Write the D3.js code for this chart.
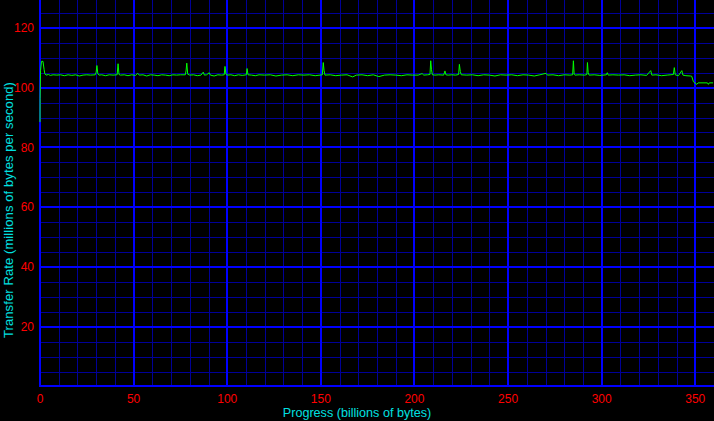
<!DOCTYPE html>
<html>
<head>
<meta charset="utf-8">
<script src="https://cdn.jsdelivr.net/npm/d3@7"></script>
<style>
  html, body { margin: 0; padding: 0; background: #000; }
  svg { display: block; }
  text { font-family: "Liberation Sans", Arial, sans-serif; font-size: 12px; }
</style>
</head>
<body>
<div id="chart"></div>
<script>
// progress (billions of bytes) and transfer rate (millions of bytes per second)
var progress = [
  0, 0.05, 0.3, 0.8, 1.6, 2.2, 2.6, 3.2, 4.5, 5.5, 7, 9, 11, 13, 15, 17, 19, 21, 23, 25, 27,
  29.5, 30.0, 30.4, 30.9, 31.5, 33, 35, 37, 39, 41.2, 41.7, 42.2, 43, 45, 47, 49, 51, 52.2, 53,
  55, 57, 59, 61, 63, 65, 67, 69, 71, 73, 75, 77.6, 78.0, 78.4, 78.9, 80, 82, 84, 86, 87.2, 87.8,
  89, 90.4, 91, 93, 95, 97, 98.4, 98.8, 99.3, 100, 102, 104, 106, 108, 110.2, 110.6, 111.1, 113,
  115, 117, 120, 123, 126, 129, 132, 135, 138, 141, 144, 147, 150.8, 151.3, 151.7, 152.2, 155,
  158, 161, 164, 167, 169, 172, 175, 178, 181, 184, 187, 190, 193, 196, 199, 202, 204.1, 205,
  207, 208.3, 208.7, 209.1, 209.6, 211, 213, 215.6, 216.3, 216.8, 218, 220, 222, 223.6, 224.0,
  224.5, 225, 228, 231, 234, 237, 240, 243, 246, 249, 252, 255, 258, 261, 264, 267, 270.3, 271,
  274, 277, 280, 283, 284.5, 284.9, 285.3, 285.7, 288, 291, 292.1, 292.4, 292.8, 293.3, 296, 299,
  302.5, 303.0, 303.5, 306, 309, 312, 315, 318, 321, 324, 326.2, 326.8, 329, 332, 335, 338.3,
  338.8, 339.3, 341, 342.8, 343.4, 345, 347.5, 348.1, 349.0, 350.8, 351.5, 356.5, 357.0, 357.5, 359.5
];
var rate = [
  88.5, 96.3, 105.8, 108.8, 108.8, 106.0, 104.6, 104.2, 104.4, 104.1, 104.3, 104.2, 104.3, 104.0, 104.3, 104.1, 104.3, 103.9, 104.2, 104.3, 104.2,
  104.3, 105.2, 107.4, 104.6, 104.2, 104.3, 104.0, 104.3, 104.2, 104.3, 108.0, 104.4, 104.2, 104.3, 104.0, 104.3, 104.1, 104.8, 104.2,
  104.3, 103.9, 104.3, 104.2, 104.0, 104.3, 104.2, 104.0, 104.3, 104.2, 104.3, 104.3, 105.6, 108.2, 104.5, 104.2, 104.3, 104.0, 104.2, 105.2, 104.2,
  104.3, 105.0, 104.2, 103.9, 104.3, 104.2, 104.3, 107.1, 104.5, 104.2, 104.3, 104.0, 104.3, 104.1, 104.3, 106.4, 104.3, 104.2,
  104.0, 104.3, 104.2, 104.3, 103.9, 104.2, 104.3, 104.0, 104.3, 104.2, 104.3, 104.0, 104.3, 108.4, 105.8, 104.2, 104.3,
  104.0, 104.2, 104.3, 103.6, 104.2, 104.3, 104.0, 104.3, 103.7, 104.2, 104.3, 104.2, 104.0, 104.3, 104.2, 104.2, 104.7, 104.2,
  104.3, 104.4, 109.0, 106.0, 104.3, 104.2, 104.3, 104.2, 105.6, 104.3, 104.2, 104.3, 104.2, 104.4, 107.8,
  105.4, 104.3, 104.2, 104.3, 104.0, 104.3, 104.2, 103.9, 104.3, 104.2, 104.3, 104.0, 104.3, 104.2, 103.9, 104.3, 104.8, 104.2,
  104.3, 104.0, 104.3, 104.2, 104.3, 109.0, 104.5, 104.2, 104.3, 104.2, 104.4, 108.4, 105.0, 104.2, 104.3, 104.1,
  104.3, 105.0, 104.2, 104.3, 104.2, 104.3, 104.0, 104.2, 104.3, 104.1, 105.7, 104.2, 104.3, 104.0, 104.2, 104.4,
  106.7, 104.3, 104.0, 105.7, 104.2, 104.0, 103.9, 103.8, 102.0, 101.1, 101.6, 101.6, 101.1, 101.6, 101.6
];
var xTicks = [0, 50, 100, 150, 200, 250, 300, 350];
var yTicks = [20, 40, 60, 80, 100, 120];

var width = 714, height = 421;

var x = d3.scaleLinear().domain([0, 360]).range([40, 714]);
var y = d3.scaleLinear().domain([0, 130]).range([386.5, -2]);

var svg = d3.select("#chart").append("svg")
    .attr("width", width)
    .attr("height", height)
    .style("background", "#000");

/* Grid - minor */
var grid = svg.append("g").attr("class", "grid");
grid.selectAll(".vminor")
    .data(d3.range(10, 361, 10).filter(function(d){ return d % 50 !== 0; }))
    .enter().append("line")
        .attr("x1", function(d){ return Math.round(x(d)) + 0.5; })
        .attr("x2", function(d){ return Math.round(x(d)) + 0.5; })
        .attr("y1", y(0)).attr("y2", 0)
        .attr("stroke", "#000098").attr("stroke-width", 1);
grid.selectAll(".hminor")
    .data(d3.range(5, 130, 5).filter(function(d){ return d % 20 !== 0; }))
    .enter().append("line")
        .attr("y1", function(d){ return Math.round(y(d)) + 0.5; })
        .attr("y2", function(d){ return Math.round(y(d)) + 0.5; })
        .attr("x1", x(0)).attr("x2", width)
        .attr("stroke", "#000098").attr("stroke-width", 1);

/* Grid - major */
grid.selectAll(".vmajor")
    .data(xTicks.filter(function(d){ return d > 0; }))
    .enter().append("line")
        .attr("x1", function(d){ return Math.round(x(d)); })
        .attr("x2", function(d){ return Math.round(x(d)); })
        .attr("y1", y(0)).attr("y2", 0)
        .attr("stroke", "#0000ff").attr("stroke-width", 2);
grid.selectAll(".hmajor")
    .data(yTicks)
    .enter().append("line")
        .attr("y1", function(d){ return Math.round(y(d)); })
        .attr("y2", function(d){ return Math.round(y(d)); })
        .attr("x1", x(0)).attr("x2", width)
        .attr("stroke", "#0000ff").attr("stroke-width", 2);

/* Axis lines */
svg.append("line")
    .attr("x1", 40).attr("x2", 40).attr("y1", 0).attr("y2", 387)
    .attr("stroke", "#0000ff").attr("stroke-width", 2);
svg.append("line")
    .attr("x1", 39).attr("x2", width).attr("y1", 386).attr("y2", 386)
    .attr("stroke", "#0000ff").attr("stroke-width", 2);

/* Tick labels */
svg.selectAll(".ylabel")
    .data(yTicks)
    .enter().append("text")
        .attr("x", 34)
        .attr("y", function(d){ return y(d); })
        .attr("dy", "0.35em")
        .attr("text-anchor", "end")
        .attr("fill", "#ff0000")
        .text(function(d){ return d; });
svg.selectAll(".xlabel")
    .data(xTicks)
    .enter().append("text")
        .attr("x", function(d){ return x(d); })
        .attr("y", 398.5)
        .attr("dy", "0.35em")
        .attr("text-anchor", "middle")
        .attr("fill", "#ff0000")
        .text(function(d){ return d; });

/* Axis titles */
svg.append("text")
    .attr("x", 357).attr("y", 413).attr("dy", "0.35em")
    .attr("text-anchor", "middle")
    .attr("fill", "#00e0e0")
    .style("font-size", "12.6px")
    .text("Progress (billions of bytes)");
svg.append("text")
    .attr("transform", "translate(8,210) rotate(-90)")
    .attr("dy", "0.35em")
    .attr("text-anchor", "middle")
    .attr("fill", "#00e0e0")
    .style("font-size", "13px")
    .style("letter-spacing", "0.1px")
    .text("Transfer Rate (millions of bytes per second)");

/* Line */
var line = d3.line()
    .x(function(d){ return x(d[0]); })
    .y(function(d){ return y(d[1]); });
svg.append("path")
    .datum(d3.zip(progress, rate))
    .attr("fill", "none")
    .attr("stroke", "#00ff00")
    .attr("stroke-width", 1)
    .attr("d", line);
</script>
</body>
</html>
